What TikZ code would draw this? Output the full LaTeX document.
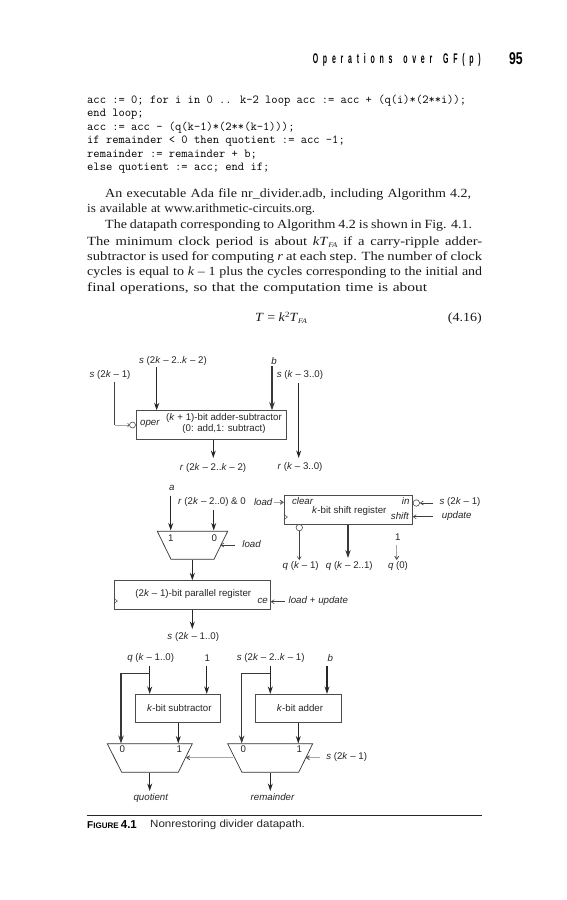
\documentclass[tikz,border=0pt]{standalone}
\usepackage{fontspec}
\setmainfont{Liberation Serif}
\setsansfont{Liberation Sans}
\newfontfamily\bodyfont[FakeStretch=1.12]{Liberation Serif}
\newfontfamily\bodynarrow[FakeStretch=1.05]{Liberation Serif}
\newfontfamily\bodywide[FakeStretch=1.17]{Liberation Serif}
\newfontfamily\bodyxwide[FakeStretch=1.24]{Liberation Serif}
\newfontfamily\headfont[FakeStretch=0.5,LetterSpace=34,WordSpace=1.6]{Liberation Sans Bold}
\newfontfamily\pagefont[FakeStretch=0.72]{Liberation Sans Bold}
\newfontfamily\capfont[FakeStretch=1.1]{Liberation Sans}
\usetikzlibrary{arrows.meta}
\newcommand{\ik}{\textit{k}}
\newcommand{\lab}{\sffamily\fontsize{9.7}{11}\selectfont}
\newcommand{\subFA}{\raisebox{-2.5pt}{\fontsize{7}{7}\selectfont\textit{FA}}}
\newcommand{\jline}[2]{\makebox[#1pt][s]{#2}}
\tikzset{
  lbl/.style={font=\lab,inner sep=0pt,text=black!85},
  boxn/.style={draw=black!70,line width=0.8pt,inner sep=0pt,font=\lab,fill=white},
  mux/.style={draw=black!80,line width=0.7pt},
  bus/.style={draw=black!85,line width=1.15pt,-{Stealth[length=7.5pt,width=5pt]}},
  thick bus/.style={draw=black!78,line width=1.5pt,-{Stealth[length=8pt,width=5.4pt]}},
  wire/.style={draw=black!75,line width=0.6pt,-{Straight Barb[length=3pt,width=4pt]}},
  graywire/.style={draw=black!35,line width=0.9pt,-{Straight Barb[length=3pt,width=4pt,black!70]}},
  bubble/.style={circle,draw=black!70,line width=0.6pt,minimum size=6.5pt,inner sep=0pt,fill=white},
  code/.style={font=\ttfamily\fontsize{12.2}{13}\selectfont,anchor=west,inner sep=0pt,text=black},
  body/.style={font=\bodyfont\fontsize{12.5}{14}\selectfont,anchor=west,inner sep=0pt,text=black!90},
}
\begin{document}
\begin{tikzpicture}[x=1pt,y=-1pt]
\useasboundingbox (0,0) rectangle (567,900);
% page head
\node[inner sep=0pt,anchor=east,font=\headfont\fontsize{14}{14}\selectfont] (head) at (481,59.5) {Operations over GF(p)};
\node[inner sep=0pt,anchor=east,font=\pagefont\fontsize{17}{18}\selectfont] (page) at (523,58.5) {95};
% code
\node[code] (c1) at (87,101) {acc := 0; for i in 0 .. k-2 loop acc := acc + (q(i)*(2**i));};
\node[code] (c2) at (87,114.5) {end loop;};
\node[code] (c3) at (87,128) {acc := acc - (q(k-1)*(2**(k-1)));};
\node[code] (c4) at (87,141.5) {if remainder < 0 then quotient := acc -1;};
\node[code] (c5) at (87,155) {remainder := remainder + b;};
\node[code] (c6) at (87,168.5) {else quotient := acc; end if;};
% body
\node[body] (b1) at (105,194.5) {\jline{366}{An executable Ada file nr\_divider.adb, including Algorithm 4.2,}};
\node[body,font=\bodynarrow\fontsize{12.5}{14}\selectfont] (b2) at (87,210) {\jline{228}{is available at www.arithmetic-circuits.org.}};
\node[body] (b3) at (105,226) {\jline{367}{The datapath corresponding to Algorithm 4.2 is shown in Fig. 4.1.}};
\node[body,font=\bodywide\fontsize{12.5}{14}\selectfont] (b4) at (87,242) {\jline{395}{The minimum clock period is about \textit{kT}\subFA{} if a carry-ripple adder-}};
\node[body,font=\bodywide\fontsize{12.5}{14}\selectfont] (b5) at (87,257.5) {\jline{395}{subtractor is used for computing \textit{r} at each step. The number of clock}};
\node[body] (b6) at (87,273) {\jline{395}{cycles is equal to \ik{} – 1 plus the cycles corresponding to the initial and}};
\node[body,font=\bodyxwide\fontsize{12.5}{14}\selectfont] (b7) at (87,288.5) {\jline{340}{final operations, so that the computation time is about}};
\node[body] (eq) at (255,318) {\textit{T} = \ik\raisebox{4pt}{\fontsize{8}{8}\selectfont 2}\textit{T}\subFA};
\node[body,anchor=east] (eqn) at (482,318) {(4.16)};

% ---- adder-subtractor
\node[boxn,minimum width=150pt,minimum height=28.5pt] (addsub) at (211,425) {};
\node[lbl] (oper) at (150,424) {\textit{oper}};
\node[lbl] (as1) at (224,417.5) {(\ik{} + 1)-bit adder-subtractor};
\node[lbl] (as2) at (224,429) {(0: add,1: subtract)};
\node[bubble,minimum size=6pt] (asb) at (132.5,425) {};
\node[lbl] (ls1) at (110,375) {\textit{s} (2\ik{} – 1)};
\node[lbl] (ls2) at (173,361) {\textit{s} (2\ik{} – 2..\ik{} – 2)};
\node[lbl] (lb) at (274,361) {\textit{b}};
\node[lbl] (ls3) at (300,375) {\textit{s} (\ik{} – 3..0)};
\node[lbl] (lr1) at (213,467.5) {\textit{r} (2\ik{} – 2..\ik{} – 2)};
\node[lbl] (lr2) at (300,467) {\textit{r} (\ik{} – 3..0)};
\coordinate (a1) at (114.5,382);
\coordinate (a2) at (114.5,425);
\coordinate (a3) at (156.7,367);
\coordinate (a4) at (272,366);
\coordinate (a5) at (298.7,383);
\coordinate (a6) at (298.7,458);
\coordinate (a7) at (213.3,439.5);
\coordinate (a8) at (213.3,458);
\draw[draw=black!75,line width=0.7pt] (a1) -- (a2);
\draw[graywire,-] (a2) -- (asb.west);
\draw[black!70,line width=0.5pt] (127.5,423) -- (129.2,425) -- (127.5,427);
\draw[bus] (a3) -- (a3 |- addsub.north);
\draw[thick bus] (a4) -- (a4 |- addsub.north);
\draw[bus] (a5) -- (a6);
\draw[bus] (a7) -- (a8);

% ---- input mux
\coordinate (m1tl) at (157.3,531.3);
\coordinate (m1tr) at (227.7,531.3);
\coordinate (m1bl) at (171,559.3);
\coordinate (m1br) at (214,559.3);
\draw[mux] (m1tl) -- (m1tr) -- (m1br) -- (m1bl) -- cycle;
\node[lbl] (m1one) at (170.7,538.5) {1};
\node[lbl] (m1zero) at (214.3,538.5) {0};
\node[lbl] (la) at (171.7,487.7) {\textit{a}};
\node[lbl] (lr3) at (212,501.7) {\textit{r} (2\ik{} – 2..0) \& 0};
\node[lbl] (lload) at (251.7,544.5) {\textit{load}};
\coordinate (c1a) at (170.7,495.5);
\coordinate (c1b) at (170.7,530.5);
\coordinate (c2a) at (213.7,510);
\coordinate (c2b) at (213.7,530.5);
\coordinate (c3) at (220.5,545);
\coordinate (c4) at (192.3,559.5);
\draw[bus] (c1a) -- (c1b);
\draw[bus] (c2a) -- (c2b);
\draw[wire] (lload.west) ++(-7,0.5) -- (c3);

% ---- parallel register
\node[boxn,minimum width=156pt,minimum height=28.5pt] (preg) at (192.3,595) {};
\node[lbl] (pregt) at (193.3,593.7) {(2\ik{} – 1)-bit parallel register};
\node[lbl] (ce) at (262.7,601) {\textit{ce}};
\node[lbl] (lce) at (318.3,600.7) {\textit{load} + \textit{update}};
\node[lbl] (ls4) at (193.3,636.7) {\textit{s} (2\ik{} – 1..0)};
\draw[black!70,line width=0.5pt] (preg.west |- 0,598.5) -- +(3.5,2.5) -- (preg.west |- 0,603.5);
\draw[bus] (c4) -- (c4 |- preg.north);
\coordinate (c5a) at (192.3,629);
\draw[bus] (c4 |- preg.south) -- (c5a);
\draw[wire] (285,601.7) -- (preg.east |- 0,601.7);

% ---- shift register
\node[boxn,minimum width=128pt,minimum height=28.5pt] (sreg) at (348.3,510) {};
\node[lbl] (clear) at (302.7,501.5) {\textit{clear}};
\node[lbl] (sregt) at (349.3,511) {\ik{}-bit shift register};
\node[lbl] (in) at (405.7,501) {\textit{in}};
\node[lbl] (shift) at (400,515.7) {\textit{shift}};
\draw[black!70,line width=0.5pt] (sreg.west |- 0,514.5) -- +(3.5,2.5) -- (sreg.west |- 0,520);
\node[lbl] (lload2) at (263.3,501.7) {\textit{load}};
\node[lbl] (ls5) at (460,502.3) {\textit{s} (2\ik{} – 1)};
\node[lbl] (lupd) at (456.7,515.7) {\textit{update}};
\node[lbl] (lone) at (397.7,537.3) {1};
\node[lbl] (lq1) at (300.7,566) {\textit{q} (\ik{} – 1)};
\node[lbl] (lq2) at (349.3,566) {\textit{q} (\ik{} – 2..1)};
\node[lbl] (lq3) at (398,566) {\textit{q} (0)};
\node[bubble] (sb1) at (416.3,503) {};
\node[bubble] (sb2) at (299.3,527.6) {};
\draw[graywire] (274,502.3) -- (sreg.west |- 0,502.3);
\draw[wire] (433,503) -- (sb1.east);
\draw[wire] (433,516.7) -- (sreg.east |- 0,516.7);
\draw[wire] (sb2.south) -- (299.3,560);
\coordinate (s1) at (348,524.5);
\coordinate (s2) at (348,558);
\draw[thick bus] (s1) -- (s2);
\coordinate (s3) at (396.7,544.5);
\coordinate (s4) at (396.7,560);
\draw[graywire] (s3) -- (s4);

% ---- subtractor branch
\node[lbl] (lq4) at (150.7,658.3) {\textit{q} (\ik{} – 1..0)};
\node[lbl] (lone2) at (207.3,658.3) {1};
\node[boxn,minimum width=85.4pt,minimum height=28pt] (sub) at (178,708.3) {};
\node[lbl] (subt) at (179.3,707.7) {\ik{}-bit subtractor};
\coordinate (d1) at (149.7,666);
\coordinate (d2) at (149.7,673.3);
\coordinate (d3) at (121,673.3);
\coordinate (d4) at (121,743.5);
\coordinate (d5) at (206.7,666);
\coordinate (d6) at (178.3,743.5);
\draw[bus] (d1) -- (d1 |- sub.north);
\draw[thick bus] (d2) -- (d3) -- (d4);
\draw[bus] (d5) -- (d5 |- sub.north);
\draw[bus] (d6 |- sub.south) -- (d6);
\coordinate (m2tl) at (107.3,743.7);
\coordinate (m2tr) at (192.3,743.7);
\coordinate (m2bl) at (121.7,772.3);
\coordinate (m2br) at (178.3,772.3);
\draw[mux] (m2tl) -- (m2tr) -- (m2br) -- (m2bl) -- cycle;
\node[lbl] (m2zero) at (122.3,749.5) {0};
\node[lbl] (m2one) at (179.3,749.5) {1};
\coordinate (d7) at (149.7,772.5);
\coordinate (d8) at (149.7,791);
\draw[bus] (d7) -- (d8);
\node[lbl] (lquot) at (151,797.5) {\textit{quotient}};

% ---- adder branch
\node[lbl] (ls6) at (270.7,658.3) {\textit{s} (2\ik{} – 2..\ik{} – 1)};
\node[lbl] (lb2) at (330.3,658) {\textit{b}};
\node[boxn,minimum width=85.6pt,minimum height=28pt] (add) at (298.5,708.3) {};
\node[lbl] (addt) at (300,707.7) {\ik{}-bit adder};
\coordinate (e1) at (270.3,666);
\coordinate (e2) at (270.3,673.3);
\coordinate (e3) at (241.7,673.3);
\coordinate (e4) at (241.7,743.5);
\coordinate (e5) at (327,666);
\coordinate (e6) at (298.3,743.5);
\draw[bus] (e1) -- (e1 |- add.north);
\draw[thick bus] (e2) -- (e3) -- (e4);
\draw[bus] (e5) -- (e5 |- add.north);
\draw[bus] (e6 |- add.south) -- (e6);
\coordinate (m3tl) at (227.7,743.7);
\coordinate (m3tr) at (312.7,743.7);
\coordinate (m3bl) at (242,772.3);
\coordinate (m3br) at (298.7,772.3);
\draw[mux] (m3tl) -- (m3tr) -- (m3br) -- (m3bl) -- cycle;
\node[lbl] (m3zero) at (243.3,749.5) {0};
\node[lbl] (m3one) at (299.3,749.5) {1};
\coordinate (e7) at (270.3,772.5);
\coordinate (e8) at (270.3,791);
\draw[bus] (e7) -- (e8);
\node[lbl] (lrem) at (272.7,797.5) {\textit{remainder}};
\node[lbl] (ls7) at (346.7,757) {\textit{s} (2\ik{} – 1)};
\coordinate (g1) at (233.3,757.7);
\coordinate (g2) at (186,757.7);
\coordinate (g3) at (320,757.7);
\coordinate (g4) at (305.7,757.7);
\draw[graywire] (g1) -- (g2);
\draw[graywire] (g3) -- (g4);

% ---- caption
\coordinate (r1) at (87,815.3);
\coordinate (r2) at (482,815.3);
\draw[black!85,line width=1.2pt] (r1) -- (r2);
\node[inner sep=0pt,anchor=west,font=\sffamily\bfseries] (figl) at (87,824.5) {\fontsize{10}{10}\selectfont F\fontsize{8}{10}\selectfont IGURE \fontsize{11.5}{10}\selectfont 4.1};
\node[inner sep=0pt,anchor=west,font=\capfont\fontsize{10.5}{12}\selectfont,text=black!85] (figc) at (150,824.5) {Nonrestoring divider datapath.};
\end{tikzpicture}
\end{document}
